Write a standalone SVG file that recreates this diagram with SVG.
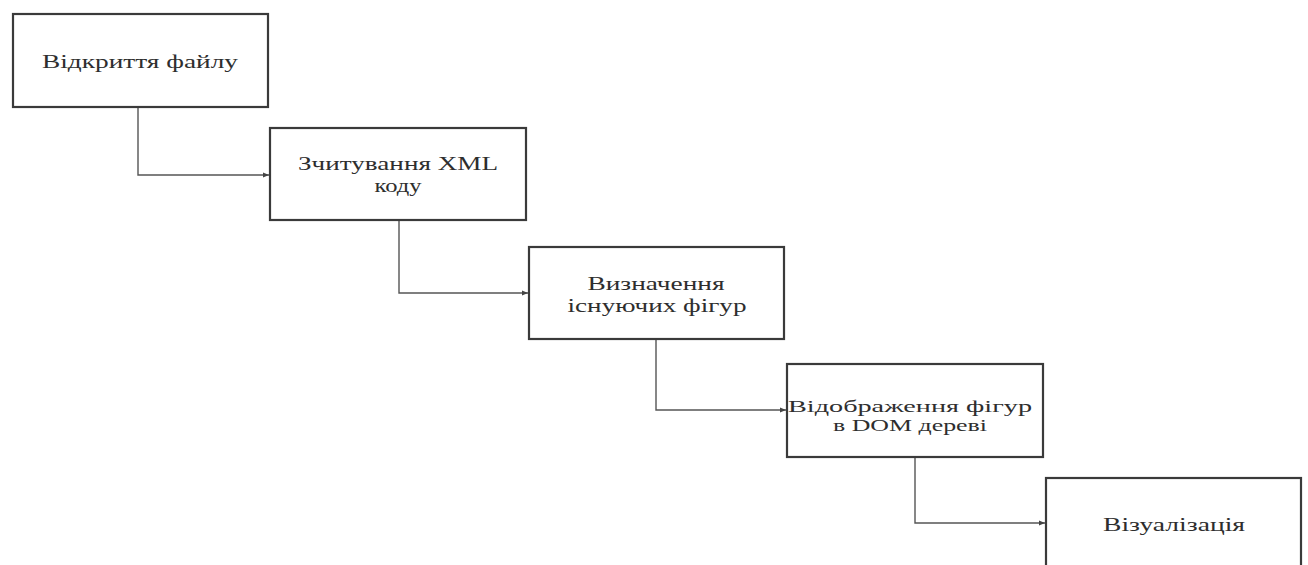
<svg xmlns="http://www.w3.org/2000/svg" width="1308" height="565" viewBox="0 0 1308 565">
  <style>
    .box { fill: #ffffff; stroke: #3a3a3a; stroke-width: 2.2; }
    .edge { fill: none; stroke: #555555; stroke-width: 1.4; }
    .lbl { font-family: "Liberation Serif", "Times New Roman", serif; font-size: 19px; fill: #2e2e2e; text-anchor: middle; }
    .sm { font-size: 17px; }
  </style>
  <defs>
    <marker id="arr" viewBox="0 0 10 10" refX="10" refY="5" markerWidth="6" markerHeight="6" markerUnits="userSpaceOnUse" orient="auto">
      <path d="M0,1 L10,5 L0,9 z" fill="#444444"/>
    </marker>
  </defs>
  <rect width="1308" height="565" fill="#ffffff"/>

  <g id="connectors">
    <path class="edge" d="M138,107 V175 H269" marker-end="url(#arr)"/>
    <path class="edge" d="M399,220 V293 H528" marker-end="url(#arr)"/>
    <path class="edge" d="M656,339 V410 H786" marker-end="url(#arr)"/>
    <path class="edge" d="M915,457 V523 H1045" marker-end="url(#arr)"/>
  </g>

  <g id="open-file">
    <rect class="box" x="13" y="14" width="255" height="93"/>
    <text class="lbl" x="140" y="68" textLength="196" lengthAdjust="spacingAndGlyphs">Відкриття файлу</text>
  </g>

  <g id="read-xml">
    <rect class="box" x="270" y="128" width="256" height="92"/>
    <text class="lbl" x="398" y="170" textLength="200" lengthAdjust="spacingAndGlyphs">Зчитування XML</text>
    <text class="lbl" x="398" y="192" textLength="47" lengthAdjust="spacingAndGlyphs">коду</text>
  </g>

  <g id="detect-shapes">
    <rect class="box" x="529" y="247" width="255" height="92"/>
    <text class="lbl" x="656" y="290" textLength="137" lengthAdjust="spacingAndGlyphs">Визначення</text>
    <text class="lbl" x="657" y="312" textLength="179" lengthAdjust="spacingAndGlyphs">існуючих фігур</text>
  </g>

  <g id="dom-mapping">
    <rect class="box" x="787" y="364" width="256" height="93"/>
    <text class="lbl sm" x="910" y="412" textLength="244" lengthAdjust="spacingAndGlyphs">Відображення фігур</text>
    <text class="lbl sm" x="910" y="431" textLength="154" lengthAdjust="spacingAndGlyphs">в DOM дереві</text>
  </g>

  <g id="render">
    <rect class="box" x="1046" y="478" width="255" height="100"/>
    <text class="lbl" x="1174" y="531" textLength="142" lengthAdjust="spacingAndGlyphs">Візуалізація</text>
  </g>
</svg>
